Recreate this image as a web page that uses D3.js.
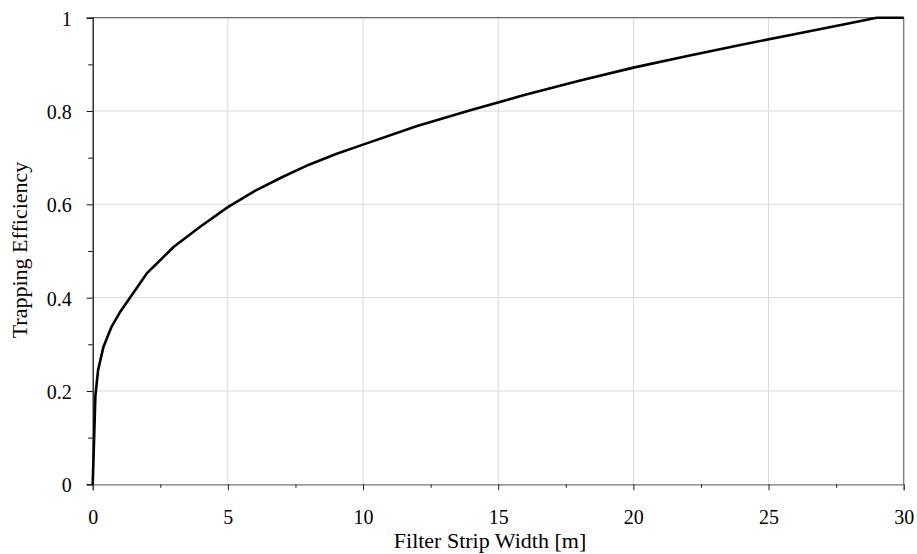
<!DOCTYPE html>
<html>
<head>
<meta charset="utf-8">
<script src="https://cdn.jsdelivr.net/npm/d3@7.9.0/dist/d3.min.js"></script>
<style>
  html, body { margin: 0; padding: 0; background: #fff; }
  svg, svg text { font-family: "Liberation Serif", "Times New Roman", serif; }
</style>
</head>
<body>
<div id="chart"></div>
<script>
// strip width [m] and trapping efficiency along the curve
const widths = [0, 0.1, 0.2, 0.4, 0.7, 1, 1.5, 2, 3, 4, 5, 6, 7, 8, 9, 10, 12, 14, 16, 18, 20, 22, 24, 26, 28, 29, 30];
const efficiency = [0, 0.19, 0.245, 0.295, 0.338, 0.368, 0.41, 0.452, 0.509, 0.553, 0.594, 0.629, 0.658, 0.685, 0.708, 0.728, 0.768, 0.802, 0.835, 0.865, 0.893, 0.918, 0.942, 0.965, 0.988, 1.0, 1.0];

const xTicks = [0, 5, 10, 15, 20, 25, 30];
const xMinor = [2.5, 7.5, 12.5, 17.5, 22.5, 27.5];
const yTicks = [0, 0.2, 0.4, 0.6, 0.8, 1];
const yMinor = [0.1, 0.3, 0.5, 0.7, 0.9];

const xTitle = 'Filter Strip Width [m]';
const yTitle = 'Trapping Efficiency';

const width = 917;
const height = 554;
const margin = { top: 17.7, right: 13.3, bottom: 69.7, left: 92.7 };
const serif = '"Liberation Serif", "Times New Roman", serif';

const svg = d3.select('#chart')
  .append('svg')
  .attr('width', width)
  .attr('height', height);

const x = d3.scaleLinear()
  .domain([0, 30])
  .range([margin.left, width - margin.right]);

const y = d3.scaleLinear()
  .domain([0, 1])
  .range([height - margin.bottom, margin.top]);

const fmtY = (d) => (d === 0 || d === 1 ? String(d) : d3.format('.1f')(d));

// gridlines
const grid = svg.append('g').attr('class', 'grid');
grid.selectAll('line.gx')
  .data(xTicks.slice(1, -1))
  .join('line')
  .attr('class', 'gx')
  .attr('x1', (d) => x(d)).attr('x2', (d) => x(d))
  .attr('y1', y(0)).attr('y2', y(1))
  .attr('stroke', '#d9d9d9').attr('stroke-width', 1);
grid.selectAll('line.gy')
  .data(yTicks.slice(1, -1))
  .join('line')
  .attr('class', 'gy')
  .attr('x1', x(0)).attr('x2', x(30))
  .attr('y1', (d) => y(d)).attr('y2', (d) => y(d))
  .attr('stroke', '#d9d9d9').attr('stroke-width', 1);

// frame: top and right edges
svg.append('line')
  .attr('x1', x(0)).attr('x2', x(30))
  .attr('y1', y(1)).attr('y2', y(1))
  .attr('stroke', '#666').attr('stroke-width', 1.3);
svg.append('line')
  .attr('x1', x(30)).attr('x2', x(30))
  .attr('y1', y(1)).attr('y2', y(0))
  .attr('stroke', '#777').attr('stroke-width', 1.3);

// x axis
const xAxis = svg.append('g')
  .attr('transform', `translate(0, ${y(0)})`)
  .call(d3.axisBottom(x).tickValues(xTicks).tickSize(6).tickPadding(20).tickFormat(d3.format('d')))
  .attr('font-family', serif)
  .attr('font-size', 20);
xAxis.select('.domain').attr('stroke', '#777').attr('stroke-width', 1.3);
xAxis.selectAll('.tick line').attr('stroke', '#222');
xAxis.selectAll('.tick text').attr('fill', '#000').style('font-family', serif);

svg.append('g')
  .attr('transform', `translate(0, ${y(0)})`)
  .call(d3.axisBottom(x).tickValues(xMinor).tickSize(3.5).tickFormat(''))
  .call((g) => g.select('.domain').remove())
  .selectAll('.tick line').attr('stroke', '#222');

// y axis
const yAxis = svg.append('g')
  .attr('transform', `translate(${x(0)}, 0)`)
  .call(d3.axisLeft(y).tickValues(yTicks).tickSize(6).tickPadding(15).tickFormat(fmtY))
  .attr('font-family', serif)
  .attr('font-size', 20);
yAxis.select('.domain').attr('stroke', '#111').attr('stroke-width', 1.3);
yAxis.selectAll('.tick line').attr('stroke', '#111');
yAxis.selectAll('.tick text')
  .attr('fill', '#000')
  .attr('dy', '0.38em')
  .style('font-family', serif);

svg.append('g')
  .attr('transform', `translate(${x(0)}, 0)`)
  .call(d3.axisLeft(y).tickValues(yMinor).tickSize(4.5).tickFormat(''))
  .call((g) => g.select('.domain').remove())
  .selectAll('.tick line').attr('stroke', '#111');

// efficiency curve
const points = widths.map((w, i) => [w, efficiency[i]]);
svg.append('path')
  .datum(points)
  .attr('fill', 'none')
  .attr('stroke', '#000')
  .attr('stroke-width', 2.6)
  .attr('stroke-linejoin', 'round')
  .attr('d', d3.line().x((d) => x(d[0])).y((d) => y(d[1])));

// axis titles
svg.append('text')
  .attr('x', 490)
  .attr('y', 548)
  .attr('text-anchor', 'middle')
  .attr('font-size', 22)
  .attr('fill', '#000')
  .style('font-family', serif)
  .text(xTitle);

svg.append('text')
  .attr('transform', `translate(26.5, 250) rotate(-90)`)
  .attr('text-anchor', 'middle')
  .attr('font-size', 22)
  .attr('fill', '#000')
  .style('font-family', serif)
  .text(yTitle);
</script>
</body>
</html>
